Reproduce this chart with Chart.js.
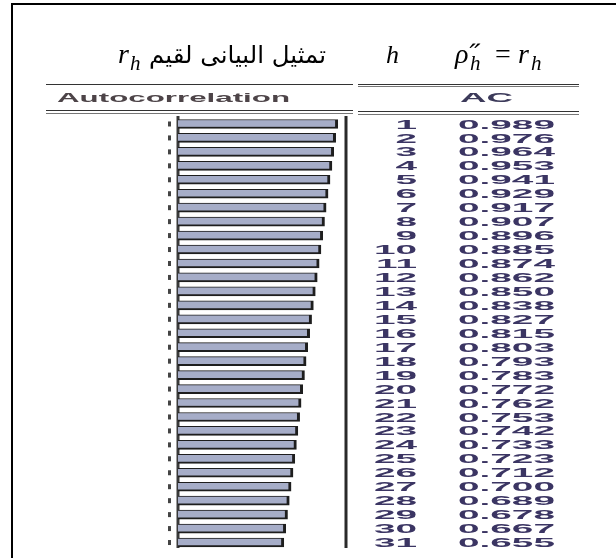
<!DOCTYPE html>
<html><head><meta charset="utf-8">
<script src="https://cdn.jsdelivr.net/npm/chart.js@4"></script>
<style>html,body{margin:0;padding:0;background:#fff}#wrap{width:616px;height:558px;position:relative}</style>
</head><body><div id="wrap"><canvas id="c" width="616" height="558"></canvas></div>
<script>
const lags = [1,2,3,4,5,6,7,8,9,10,11,12,13,14,15,16,17,18,19,20,21,22,23,24,25,26,27,28,29,30,31];
const acValues = [0.989,0.976,0.964,0.953,0.941,0.929,0.917,0.907,0.896,0.885,0.874,0.862,0.850,0.838,0.827,0.815,0.803,0.793,0.783,0.772,0.762,0.753,0.742,0.733,0.723,0.712,0.700,0.689,0.678,0.667,0.655];
const colHeaderLeft = "Autocorrelation";
const colHeaderRight = "AC";
const arabicTitle = "تمثيل البيانى لقيم";

const SERIF = '"Liberation Serif","Times New Roman","DejaVu Serif",serif';
const SANS = '"Liberation Sans",Arial,sans-serif';
const NUMFONT = 'bold 13px '+SANS;
const SX = 2.98;
function stretched(ctx, txt, x, y, align, font, color, sx){
  ctx.save();
  ctx.font = font; ctx.fillStyle = color; ctx.textBaseline = 'middle';
  const w = ctx.measureText(txt).width * sx;
  let x0 = x;
  if (align === 'right') x0 = x - w;
  else if (align === 'center') x0 = x - w/2;
  ctx.translate(x0, y); ctx.scale(sx, 1);
  ctx.textAlign = 'left';
  ctx.fillText(txt, 0, 0);
  ctx.restore();
}
function fitted(ctx, txt, x1, x2, y, font, color, baseline){
  ctx.save();
  ctx.font = font; ctx.fillStyle = color; ctx.textBaseline = baseline || 'middle';
  ctx.textAlign='left';
  const w = ctx.measureText(txt).width;
  ctx.translate(x1, y); ctx.scale((x2-x1)/w, 1);
  ctx.fillText(txt, 0, 0);
  ctx.restore();
}
function hline(ctx,x1,x2,y,color,w){ctx.save();ctx.strokeStyle=color;ctx.lineWidth=w;ctx.beginPath();ctx.moveTo(x1,y);ctx.lineTo(x2,y);ctx.stroke();ctx.restore();}
function vline(ctx,x,y1,y2,color,w){ctx.save();ctx.strokeStyle=color;ctx.lineWidth=w;ctx.beginPath();ctx.moveTo(x,y1);ctx.lineTo(x,y2);ctx.stroke();ctx.restore();}

const decor = {
  id:'decor',
  beforeDatasetsDraw(chart){
    const ctx = chart.ctx, xs = chart.scales.x, ys = chart.scales.y;
    const ca = chart.chartArea;
    ctx.save(); ctx.fillStyle='#000';
    ctx.fillRect(11,3,605,2);
    ctx.fillRect(11,3,2,555);
    ctx.restore();
    // header texts
    ctx.save();
    ctx.fillStyle='#000'; ctx.textBaseline='alphabetic';
    ctx.font='italic 28px '+SERIF;
    ctx.fillText('r',118,63);
    ctx.font='italic 21px '+SERIF;
    ctx.fillText('h',130,70);
    ctx.restore();
    ctx.save();
    ctx.direction='rtl';
    fitted(ctx, arabicTitle, 149, 326, 63, '24px "DejaVu Sans"', '#000', 'alphabetic');
    ctx.restore();
    ctx.save();
    ctx.fillStyle='#000'; ctx.textBaseline='alphabetic'; ctx.textAlign='left';
    ctx.font='italic 26px '+SERIF;
    ctx.fillText('h',386,63);
    ctx.font='italic 28px '+SERIF;
    ctx.fillText('ρ\u030B',455,63);
    ctx.font='italic 21px '+SERIF;
    ctx.fillText('h',470,70);
    ctx.font='28px '+SERIF;
    ctx.fillText('=',495,63);
    ctx.font='italic 28px '+SERIF;
    ctx.fillText('r',518,63);
    ctx.font='italic 21px '+SERIF;
    ctx.fillText('h',531,70);
    ctx.restore();
    // table rules
    hline(ctx,46,353,84.5,'#333',1);
    hline(ctx,358,579,84.5,'#333',1);
    hline(ctx,358,579,86.5,'#777',1);
    hline(ctx,46,353,110.5,'#333',1);
    hline(ctx,46,353,113.5,'#777',1);
    hline(ctx,358,579,111.5,'#333',1);
    hline(ctx,358,579,114.5,'#777',1);
    fitted(ctx,colHeaderLeft,57,290,98,'bold 13px '+SANS,'#4d4448');
    fitted(ctx,colHeaderRight,460,513,98,'bold 13px '+SANS,'#3c3a5a');
    const x0 = xs.getPixelForValue(0);
    vline(ctx,x0,116,548,'#3a3a3a',3);
    vline(ctx,ca.right,116,548,'#2a2a2a',3);
    lags.forEach((lag,i)=>{
      const y = ys.getPixelForValue(i);
      ctx.save(); ctx.fillStyle='#444'; ctx.fillRect(168,y-2.5,3,5); ctx.restore();
      stretched(ctx,String(lag),417,y+1,'right',NUMFONT,'#3b3563',SX);
      stretched(ctx,acValues[i].toFixed(3),458,y+1,'left',NUMFONT,'#3b3563',SX);
    });
  }
};

function draw(){
new Chart(document.getElementById('c'),{
  type:'bar',
  data:{labels:lags.map(String),datasets:[{data:acValues,backgroundColor:'#a6adc8',borderColor:'#1e1e1e',
    borderWidth:{top:1,bottom:2,right:3,left:0},borderSkipped:false,barThickness:9}]},
  options:{
    indexAxis:'y',responsive:false,animation:false,
    layout:{padding:{left:178,right:270,top:117,bottom:8.5}},
    plugins:{legend:{display:false},tooltip:{enabled:false}},
    scales:{
      x:{display:false,min:0,max:1.04},
      y:{display:false}
    }
  },
  plugins:[decor]
});
}
Promise.all([
  document.fonts.load('italic 28px "Liberation Serif"'),
  document.fonts.load('28px "Liberation Serif"'),
  document.fonts.load('bold 13px "Liberation Sans"'),
  document.fonts.load('24px "DejaVu Sans"')
]).then(draw, draw);
</script></body></html>
